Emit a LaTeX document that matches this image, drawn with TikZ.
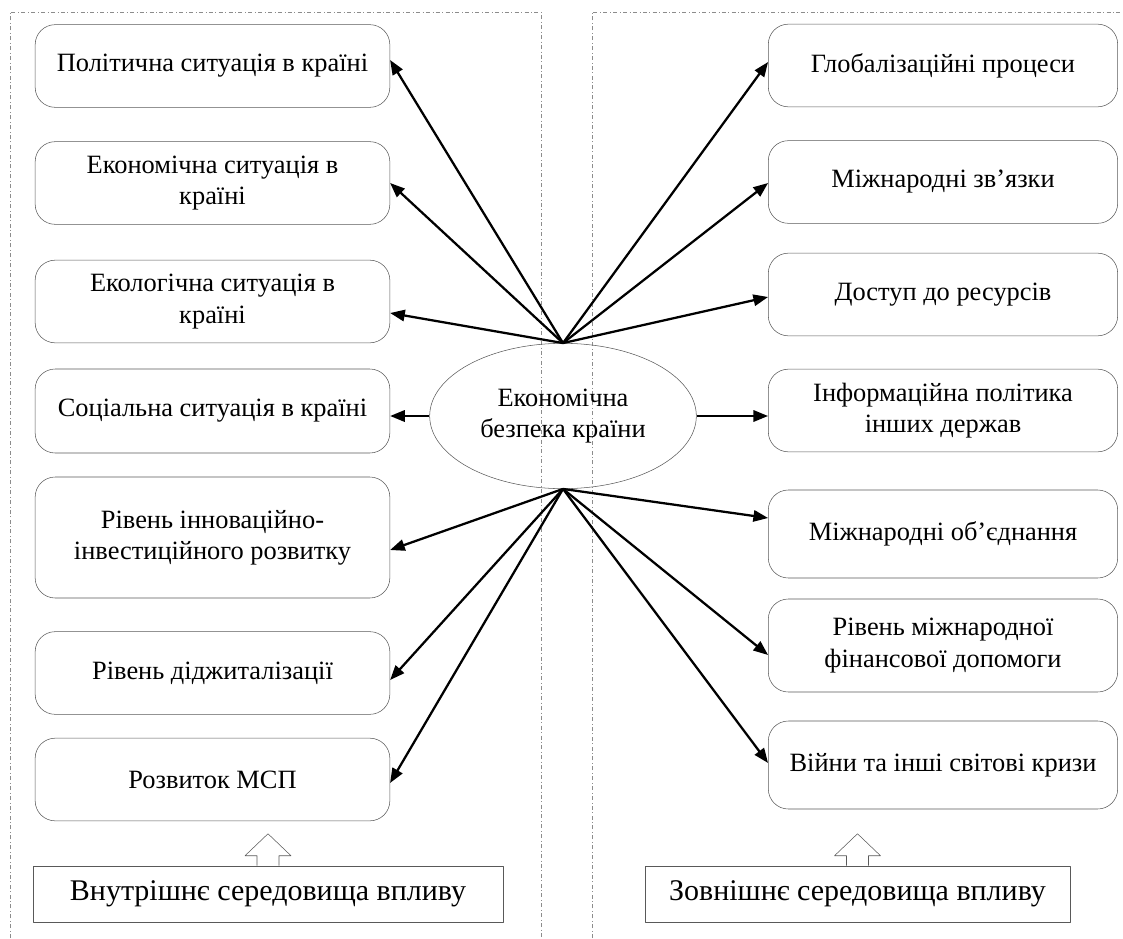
\documentclass[tikz,border=0pt]{standalone}
\usepackage{fontspec}
\setmainfont{Liberation Serif}
\usetikzlibrary{arrows.meta,shapes.geometric,calc}
\begin{document}
\begin{tikzpicture}[x=0.75pt, y=-0.75pt, font=\fontsize{19.8}{23.5}\selectfont, line join=round, >={Triangle[length=11pt,width=8.5pt]},
		box/.style={draw=black!65, rounded corners=15pt, align=center, inner sep=0pt, minimum height=62pt},
		lbox/.style={box, minimum width=266pt},
		rbox/.style={box, minimum width=262pt},
		link/.style={->, line width=1.7pt},
		frame/.style={draw=black!45, dash dot, line width=0.6pt},
		envbox/.style={draw=black!65, inner sep=0pt, minimum height=42pt, font=\fontsize{22.5}{27}\selectfont}]
				\useasboundingbox (0,0) rectangle (1123,938);
				\draw[frame] (10,938)--(10,12)--(541,12)--(541,938);
				\draw[frame] (592,938)--(592,12)--(1123,12);
				\node[draw=black!65, ellipse, minimum width=200pt, minimum height=109pt, align=center, inner sep=0pt] (eb) at (563,416) {Економічна\\безпека країни};
				\node[lbox] (L1) at (212.5,66) {Політична ситуація в країні};
				\node[lbox] (L2) at (212.5,183) {Економічна ситуація в\\країні};
				\node[lbox] (L3) at (212.5,301.5) {Екологічна ситуація в\\країні};
				\node[lbox, minimum height=63pt] (L4) at (212.5,411) {Соціальна ситуація в країні};
				\node[lbox, minimum height=90.75pt] (L5) at (212.5,537.5) {Рівень інноваційно-\\інвестиційного розвитку};
				\node[lbox] (L6) at (212.5,673) {Рівень діджиталізації};
				\node[lbox] (L7) at (212.5,779.5) {Розвиток МСП};
				\node[rbox] (R1) at (943,65.5) {Глобалізаційні процеси};
				\node[rbox] (R2) at (943,182) {Міжнародні зв’язки};
				\node[rbox] (R3) at (943,294.5) {Доступ до ресурсів};
				\node[rbox] (R4) at (943,410.5) {Інформаційна політика\\інших держав};
				\node[rbox, minimum height=66pt] (R5) at (943,534) {Міжнародні об’єднання};
				\node[rbox, minimum height=69.75pt] (R6) at (943,645.5) {Рівень міжнародної\\фінансової допомоги};
				\node[rbox, minimum height=66pt] (R7) at (943,765) {Війни та інші світові кризи};
				\node[envbox, minimum width=352.5pt] (inner) at (268,894) {Внутрішнє середовища впливу};
				\node[envbox, minimum width=319pt] (outer) at (857.5,894) {Зовнішнє середовища впливу};
				\draw[link] (eb.north)--(L1.east |- 0,60);
				\draw[link] (eb.north)--(L2.east |- 0,183);
				\draw[link] (eb.north)--(L3.east |- 0,313);
				\draw[link] (eb.west)--(L4.east |- eb.west);
				\draw[link] (eb.south)--(L5.east |- 0,550);
				\draw[link] (eb.south)--(L6.east |- 0,680);
				\draw[link] (eb.south)--(L7.east |- 0,783);
				\draw[link] (eb.north)--(R1.west |- 0,62);
				\draw[link] (eb.north)--(R2.west |- 0,183);
				\draw[link] (eb.north)--(R3.west |- 0,297);
				\draw[link] (eb.east)--(R4.west |- eb.east);
				\draw[link] (eb.south)--(R5.west |- 0,518);
				\draw[link] (eb.south)--(R6.west |- 0,655);
				\draw[link] (eb.south)--(R7.west |- 0,763);
				\foreach \b in {inner, outer}
					\draw[draw=black!65, fill=white] ($(\b.north)+(-11,0)$)--++(0,-10)--++(-12,0)--($(\b.north)+(0,-32)$)--($(\b.north)+(23,-10)$)--++(-12,0)--($(\b.north)+(11,0)$);
			\end{tikzpicture}
\end{document}
